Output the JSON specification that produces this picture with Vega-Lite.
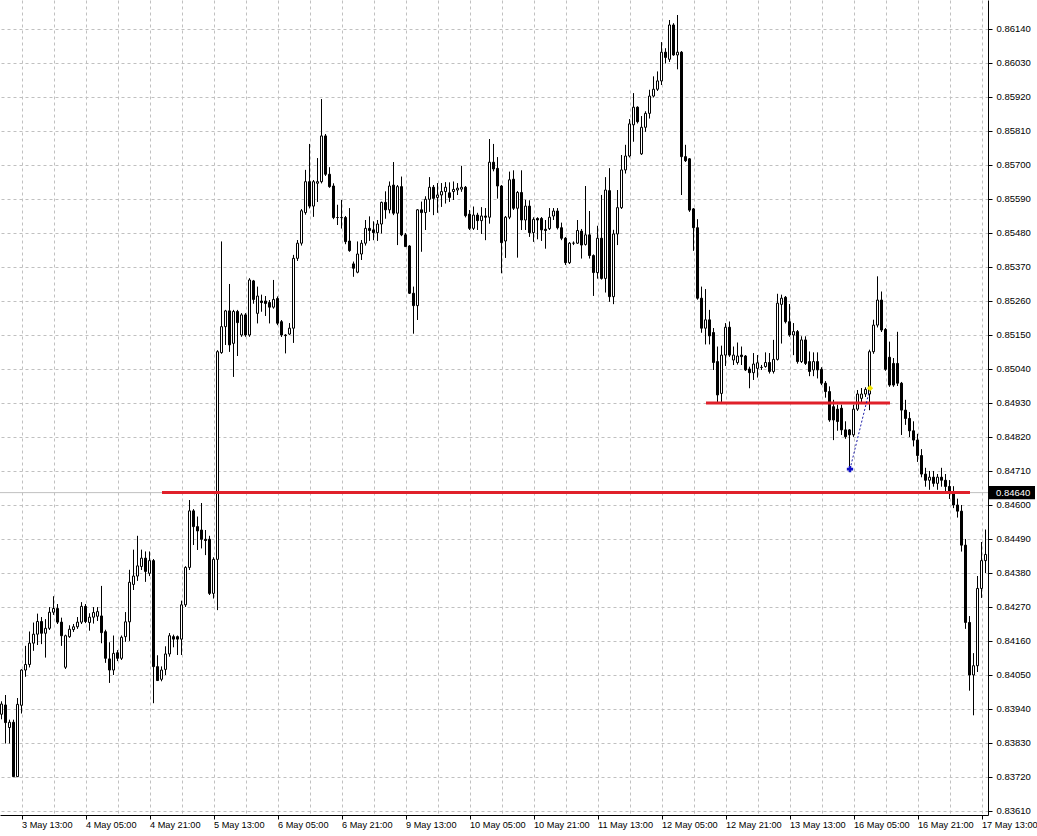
{
  "$schema": "https://vega.github.io/schema/vega-lite/v6.json",
  "width": 988,
  "height": 815,
  "autosize": {"type": "none"},
  "padding": {"left": 0, "top": 0, "right": 49, "bottom": 21},
  "background": "white",
  "config": {"view": {"stroke": null}},
  "datasets": {
    "candles": [
      {"t":"3 May 08:00","o":0.83923,"h":0.83964,"l":0.83907,"c":0.83956},
      {"t":"3 May 09:00","o":0.83953,"h":0.83985,"l":0.83829,"c":0.83896},
      {"t":"3 May 10:00","o":0.83880,"h":0.83905,"l":0.83829,"c":0.83897},
      {"t":"3 May 11:00","o":0.83897,"h":0.83905,"l":0.83721,"c":0.83721},
      {"t":"3 May 12:00","o":0.83721,"h":0.83975,"l":0.83721,"c":0.83955},
      {"t":"3 May 13:00","o":0.83952,"h":0.84068,"l":0.83926,"c":0.84066},
      {"t":"3 May 14:00","o":0.84066,"h":0.84144,"l":0.84045,"c":0.84084},
      {"t":"3 May 15:00","o":0.84084,"h":0.84190,"l":0.84075,"c":0.84153},
      {"t":"3 May 16:00","o":0.84153,"h":0.84219,"l":0.84129,"c":0.84182},
      {"t":"3 May 17:00","o":0.84182,"h":0.84248,"l":0.84147,"c":0.84223},
      {"t":"3 May 18:00","o":0.84223,"h":0.84237,"l":0.84150,"c":0.84185},
      {"t":"3 May 19:00","o":0.84185,"h":0.84230,"l":0.84107,"c":0.84201},
      {"t":"3 May 20:00","o":0.84201,"h":0.84269,"l":0.84196,"c":0.84253},
      {"t":"3 May 21:00","o":0.84253,"h":0.84304,"l":0.84245,"c":0.84265},
      {"t":"3 May 22:00","o":0.84265,"h":0.84279,"l":0.84215,"c":0.84221},
      {"t":"3 May 23:00","o":0.84221,"h":0.84235,"l":0.84145,"c":0.84177},
      {"t":"4 May 00:00","o":0.84075,"h":0.84180,"l":0.84070,"c":0.84177},
      {"t":"4 May 01:00","o":0.84174,"h":0.84210,"l":0.84171,"c":0.84198},
      {"t":"4 May 02:00","o":0.84197,"h":0.84215,"l":0.84190,"c":0.84206},
      {"t":"4 May 03:00","o":0.84206,"h":0.84237,"l":0.84200,"c":0.84221},
      {"t":"4 May 04:00","o":0.84221,"h":0.84285,"l":0.84215,"c":0.84272},
      {"t":"4 May 05:00","o":0.84272,"h":0.84279,"l":0.84218,"c":0.84223},
      {"t":"4 May 06:00","o":0.84220,"h":0.84249,"l":0.84194,"c":0.84237},
      {"t":"4 May 07:00","o":0.84237,"h":0.84269,"l":0.84217,"c":0.84252},
      {"t":"4 May 08:00","o":0.84240,"h":0.84269,"l":0.84225,"c":0.84255},
      {"t":"4 May 09:00","o":0.84241,"h":0.84338,"l":0.84153,"c":0.84187},
      {"t":"4 May 10:00","o":0.84190,"h":0.84196,"l":0.84090,"c":0.84104},
      {"t":"4 May 11:00","o":0.84102,"h":0.84155,"l":0.84025,"c":0.84066},
      {"t":"4 May 12:00","o":0.84066,"h":0.84177,"l":0.84050,"c":0.84120},
      {"t":"4 May 13:00","o":0.84122,"h":0.84130,"l":0.84095,"c":0.84104},
      {"t":"4 May 14:00","o":0.84104,"h":0.84177,"l":0.84099,"c":0.84172},
      {"t":"4 May 15:00","o":0.84174,"h":0.84253,"l":0.84158,"c":0.84222},
      {"t":"4 May 16:00","o":0.84222,"h":0.84390,"l":0.84161,"c":0.84350},
      {"t":"4 May 17:00","o":0.84343,"h":0.84455,"l":0.84325,"c":0.84370},
      {"t":"4 May 18:00","o":0.84370,"h":0.84500,"l":0.84355,"c":0.84403},
      {"t":"4 May 19:00","o":0.84401,"h":0.84455,"l":0.84390,"c":0.84428},
      {"t":"4 May 20:00","o":0.84428,"h":0.84449,"l":0.84352,"c":0.84385},
      {"t":"4 May 21:00","o":0.84379,"h":0.84449,"l":0.84370,"c":0.84420},
      {"t":"4 May 22:00","o":0.84420,"h":0.84425,"l":0.83959,"c":0.84077},
      {"t":"4 May 23:00","o":0.84077,"h":0.84113,"l":0.84032,"c":0.84032},
      {"t":"5 May 00:00","o":0.84036,"h":0.84077,"l":0.84030,"c":0.84066},
      {"t":"5 May 01:00","o":0.84068,"h":0.84142,"l":0.84050,"c":0.84118},
      {"t":"5 May 02:00","o":0.84118,"h":0.84185,"l":0.84110,"c":0.84177},
      {"t":"5 May 03:00","o":0.84174,"h":0.84180,"l":0.84140,"c":0.84166},
      {"t":"5 May 04:00","o":0.84174,"h":0.84177,"l":0.84115,"c":0.84166},
      {"t":"5 May 05:00","o":0.84166,"h":0.84290,"l":0.84115,"c":0.84277},
      {"t":"5 May 06:00","o":0.84277,"h":0.84401,"l":0.84270,"c":0.84398},
      {"t":"5 May 07:00","o":0.84398,"h":0.84616,"l":0.84390,"c":0.84581},
      {"t":"5 May 08:00","o":0.84581,"h":0.84586,"l":0.84471,"c":0.84530},
      {"t":"5 May 09:00","o":0.84530,"h":0.84562,"l":0.84455,"c":0.84516},
      {"t":"5 May 10:00","o":0.84519,"h":0.84606,"l":0.84460,"c":0.84489},
      {"t":"5 May 11:00","o":0.84489,"h":0.84519,"l":0.84438,"c":0.84485},
      {"t":"5 May 12:00","o":0.84489,"h":0.84500,"l":0.84309,"c":0.84314},
      {"t":"5 May 13:00","o":0.84314,"h":0.84430,"l":0.84298,"c":0.84424},
      {"t":"5 May 14:00","o":0.84424,"h":0.85100,"l":0.84260,"c":0.85096},
      {"t":"5 May 15:00","o":0.85093,"h":0.85452,"l":0.85090,"c":0.85177},
      {"t":"5 May 16:00","o":0.85177,"h":0.85231,"l":0.85118,"c":0.85228},
      {"t":"5 May 17:00","o":0.85228,"h":0.85315,"l":0.85096,"c":0.85118},
      {"t":"5 May 18:00","o":0.85123,"h":0.85231,"l":0.85015,"c":0.85226},
      {"t":"5 May 19:00","o":0.85226,"h":0.85231,"l":0.85082,"c":0.85190},
      {"t":"5 May 20:00","o":0.85150,"h":0.85220,"l":0.85145,"c":0.85215},
      {"t":"5 May 21:00","o":0.85215,"h":0.85220,"l":0.85145,"c":0.85150},
      {"t":"5 May 22:00","o":0.85150,"h":0.85333,"l":0.85145,"c":0.85328},
      {"t":"5 May 23:00","o":0.85325,"h":0.85328,"l":0.85252,"c":0.85265},
      {"t":"6 May 00:00","o":0.85220,"h":0.85306,"l":0.85188,"c":0.85276},
      {"t":"6 May 01:00","o":0.85260,"h":0.85280,"l":0.85226,"c":0.85255},
      {"t":"6 May 02:00","o":0.85260,"h":0.85276,"l":0.85212,"c":0.85252},
      {"t":"6 May 03:00","o":0.85255,"h":0.85263,"l":0.85188,"c":0.85240},
      {"t":"6 May 04:00","o":0.85240,"h":0.85328,"l":0.85236,"c":0.85265},
      {"t":"6 May 05:00","o":0.85268,"h":0.85274,"l":0.85182,"c":0.85188},
      {"t":"6 May 06:00","o":0.85193,"h":0.85198,"l":0.85144,"c":0.85150},
      {"t":"6 May 07:00","o":0.85150,"h":0.85152,"l":0.85091,"c":0.85148},
      {"t":"6 May 08:00","o":0.85153,"h":0.85188,"l":0.85150,"c":0.85172},
      {"t":"6 May 09:00","o":0.85172,"h":0.85409,"l":0.85125,"c":0.85398},
      {"t":"6 May 10:00","o":0.85398,"h":0.85457,"l":0.85390,"c":0.85447},
      {"t":"6 May 11:00","o":0.85447,"h":0.85557,"l":0.85440,"c":0.85552},
      {"t":"6 May 12:00","o":0.85546,"h":0.85684,"l":0.85540,"c":0.85646},
      {"t":"6 May 13:00","o":0.85646,"h":0.85768,"l":0.85560,"c":0.85567},
      {"t":"6 May 14:00","o":0.85567,"h":0.85651,"l":0.85533,"c":0.85646},
      {"t":"6 May 15:00","o":0.85641,"h":0.85722,"l":0.85581,"c":0.85646},
      {"t":"6 May 16:00","o":0.85646,"h":0.85913,"l":0.85641,"c":0.85794},
      {"t":"6 May 17:00","o":0.85794,"h":0.85800,"l":0.85665,"c":0.85670},
      {"t":"6 May 18:00","o":0.85670,"h":0.85692,"l":0.85627,"c":0.85630},
      {"t":"6 May 19:00","o":0.85632,"h":0.85640,"l":0.85525,"c":0.85530},
      {"t":"6 May 20:00","o":0.85530,"h":0.85571,"l":0.85506,"c":0.85530},
      {"t":"6 May 21:00","o":0.85530,"h":0.85587,"l":0.85495,"c":0.85530},
      {"t":"6 May 22:00","o":0.85530,"h":0.85535,"l":0.85444,"c":0.85452},
      {"t":"6 May 23:00","o":0.85454,"h":0.85560,"l":0.85420,"c":0.85423},
      {"t":"9 May 00:00","o":0.85380,"h":0.85387,"l":0.85339,"c":0.85366},
      {"t":"9 May 01:00","o":0.85353,"h":0.85452,"l":0.85350,"c":0.85412},
      {"t":"9 May 02:00","o":0.85412,"h":0.85457,"l":0.85393,"c":0.85447},
      {"t":"9 May 03:00","o":0.85447,"h":0.85522,"l":0.85440,"c":0.85495},
      {"t":"9 May 04:00","o":0.85495,"h":0.85533,"l":0.85455,"c":0.85488},
      {"t":"9 May 05:00","o":0.85490,"h":0.85517,"l":0.85457,"c":0.85481},
      {"t":"9 May 06:00","o":0.85481,"h":0.85522,"l":0.85455,"c":0.85509},
      {"t":"9 May 07:00","o":0.85509,"h":0.85581,"l":0.85479,"c":0.85579},
      {"t":"9 May 08:00","o":0.85579,"h":0.85614,"l":0.85527,"c":0.85555},
      {"t":"9 May 09:00","o":0.85555,"h":0.85646,"l":0.85544,"c":0.85632},
      {"t":"9 May 10:00","o":0.85635,"h":0.85709,"l":0.85538,"c":0.85544},
      {"t":"9 May 11:00","o":0.85544,"h":0.85635,"l":0.85441,"c":0.85630},
      {"t":"9 May 12:00","o":0.85630,"h":0.85662,"l":0.85470,"c":0.85474},
      {"t":"9 May 13:00","o":0.85474,"h":0.85480,"l":0.85436,"c":0.85436},
      {"t":"9 May 14:00","o":0.85438,"h":0.85440,"l":0.85283,"c":0.85285},
      {"t":"9 May 15:00","o":0.85285,"h":0.85306,"l":0.85155,"c":0.85245},
      {"t":"9 May 16:00","o":0.85245,"h":0.85557,"l":0.85199,"c":0.85555},
      {"t":"9 May 17:00","o":0.85555,"h":0.85581,"l":0.85420,"c":0.85546},
      {"t":"9 May 18:00","o":0.85546,"h":0.85598,"l":0.85490,"c":0.85589},
      {"t":"9 May 19:00","o":0.85589,"h":0.85660,"l":0.85549,"c":0.85628},
      {"t":"9 May 20:00","o":0.85628,"h":0.85635,"l":0.85538,"c":0.85592},
      {"t":"9 May 21:00","o":0.85595,"h":0.85641,"l":0.85546,"c":0.85603},
      {"t":"9 May 22:00","o":0.85603,"h":0.85641,"l":0.85565,"c":0.85614},
      {"t":"9 May 23:00","o":0.85614,"h":0.85644,"l":0.85576,"c":0.85628},
      {"t":"10 May 00:00","o":0.85610,"h":0.85643,"l":0.85581,"c":0.85595},
      {"t":"10 May 01:00","o":0.85614,"h":0.85646,"l":0.85587,"c":0.85621},
      {"t":"10 May 02:00","o":0.85619,"h":0.85641,"l":0.85603,"c":0.85625},
      {"t":"10 May 03:00","o":0.85622,"h":0.85697,"l":0.85614,"c":0.85628},
      {"t":"10 May 04:00","o":0.85628,"h":0.85632,"l":0.85531,"c":0.85536},
      {"t":"10 May 05:00","o":0.85541,"h":0.85554,"l":0.85490,"c":0.85495},
      {"t":"10 May 06:00","o":0.85495,"h":0.85565,"l":0.85490,"c":0.85538},
      {"t":"10 May 07:00","o":0.85538,"h":0.85545,"l":0.85490,"c":0.85520},
      {"t":"10 May 08:00","o":0.85520,"h":0.85563,"l":0.85477,"c":0.85535},
      {"t":"10 May 09:00","o":0.85535,"h":0.85560,"l":0.85457,"c":0.85531},
      {"t":"10 May 10:00","o":0.85531,"h":0.85784,"l":0.85511,"c":0.85709},
      {"t":"10 May 11:00","o":0.85709,"h":0.85768,"l":0.85680,"c":0.85687},
      {"t":"10 May 12:00","o":0.85689,"h":0.85725,"l":0.85592,"c":0.85632},
      {"t":"10 May 13:00","o":0.85632,"h":0.85635,"l":0.85350,"c":0.85449},
      {"t":"10 May 14:00","o":0.85454,"h":0.85535,"l":0.85400,"c":0.85531},
      {"t":"10 May 15:00","o":0.85531,"h":0.85678,"l":0.85525,"c":0.85652},
      {"t":"10 May 16:00","o":0.85654,"h":0.85682,"l":0.85555,"c":0.85560},
      {"t":"10 May 17:00","o":0.85560,"h":0.85615,"l":0.85401,"c":0.85611},
      {"t":"10 May 18:00","o":0.85611,"h":0.85682,"l":0.85490,"c":0.85522},
      {"t":"10 May 19:00","o":0.85522,"h":0.85587,"l":0.85490,"c":0.85567},
      {"t":"10 May 20:00","o":0.85567,"h":0.85585,"l":0.85468,"c":0.85481},
      {"t":"10 May 21:00","o":0.85481,"h":0.85530,"l":0.85452,"c":0.85524},
      {"t":"10 May 22:00","o":0.85527,"h":0.85530,"l":0.85460,"c":0.85522},
      {"t":"10 May 23:00","o":0.85527,"h":0.85531,"l":0.85455,"c":0.85490},
      {"t":"11 May 00:00","o":0.85492,"h":0.85522,"l":0.85430,"c":0.85488},
      {"t":"11 May 01:00","o":0.85494,"h":0.85560,"l":0.85490,"c":0.85531},
      {"t":"11 May 02:00","o":0.85535,"h":0.85560,"l":0.85522,"c":0.85551},
      {"t":"11 May 03:00","o":0.85551,"h":0.85560,"l":0.85492,"c":0.85497},
      {"t":"11 May 04:00","o":0.85497,"h":0.85513,"l":0.85457,"c":0.85463},
      {"t":"11 May 05:00","o":0.85463,"h":0.85466,"l":0.85377,"c":0.85384},
      {"t":"11 May 06:00","o":0.85384,"h":0.85450,"l":0.85380,"c":0.85447},
      {"t":"11 May 07:00","o":0.85447,"h":0.85452,"l":0.85441,"c":0.85447},
      {"t":"11 May 08:00","o":0.85447,"h":0.85522,"l":0.85445,"c":0.85488},
      {"t":"11 May 09:00","o":0.85486,"h":0.85493,"l":0.85398,"c":0.85441},
      {"t":"11 May 10:00","o":0.85443,"h":0.85632,"l":0.85440,"c":0.85474},
      {"t":"11 May 11:00","o":0.85474,"h":0.85551,"l":0.85398,"c":0.85407},
      {"t":"11 May 12:00","o":0.85407,"h":0.85410,"l":0.85277,"c":0.85352},
      {"t":"11 May 13:00","o":0.85352,"h":0.85503,"l":0.85333,"c":0.85463},
      {"t":"11 May 14:00","o":0.85463,"h":0.85603,"l":0.85330,"c":0.85333},
      {"t":"11 May 15:00","o":0.85333,"h":0.85660,"l":0.85288,"c":0.85619},
      {"t":"11 May 16:00","o":0.85617,"h":0.85689,"l":0.85258,"c":0.85274},
      {"t":"11 May 17:00","o":0.85274,"h":0.85490,"l":0.85250,"c":0.85477},
      {"t":"11 May 18:00","o":0.85477,"h":0.85619,"l":0.85441,"c":0.85562},
      {"t":"11 May 19:00","o":0.85562,"h":0.85732,"l":0.85558,"c":0.85684},
      {"t":"11 May 20:00","o":0.85684,"h":0.85765,"l":0.85673,"c":0.85729},
      {"t":"11 May 21:00","o":0.85729,"h":0.85848,"l":0.85725,"c":0.85833},
      {"t":"11 May 22:00","o":0.85830,"h":0.85932,"l":0.85776,"c":0.85887},
      {"t":"11 May 23:00","o":0.85887,"h":0.85889,"l":0.85835,"c":0.85840},
      {"t":"12 May 00:00","o":0.85736,"h":0.85858,"l":0.85733,"c":0.85822},
      {"t":"12 May 01:00","o":0.85822,"h":0.85873,"l":0.85808,"c":0.85867},
      {"t":"12 May 02:00","o":0.85867,"h":0.85943,"l":0.85851,"c":0.85923},
      {"t":"12 May 03:00","o":0.85923,"h":0.85986,"l":0.85919,"c":0.85945},
      {"t":"12 May 04:00","o":0.85945,"h":0.86002,"l":0.85940,"c":0.85972},
      {"t":"12 May 05:00","o":0.85972,"h":0.86097,"l":0.85959,"c":0.86065},
      {"t":"12 May 06:00","o":0.86065,"h":0.86077,"l":0.86029,"c":0.86048},
      {"t":"12 May 07:00","o":0.86042,"h":0.86169,"l":0.86034,"c":0.86153},
      {"t":"12 May 08:00","o":0.86153,"h":0.86158,"l":0.86054,"c":0.86056},
      {"t":"12 May 09:00","o":0.86056,"h":0.86185,"l":0.86010,"c":0.86065},
      {"t":"12 May 10:00","o":0.86065,"h":0.86068,"l":0.85603,"c":0.85727},
      {"t":"12 May 11:00","o":0.85727,"h":0.85765,"l":0.85710,"c":0.85714},
      {"t":"12 May 12:00","o":0.85720,"h":0.85722,"l":0.85549,"c":0.85554},
      {"t":"12 May 13:00","o":0.85558,"h":0.85560,"l":0.85423,"c":0.85497},
      {"t":"12 May 14:00","o":0.85497,"h":0.85524,"l":0.85265,"c":0.85269},
      {"t":"12 May 15:00","o":0.85269,"h":0.85306,"l":0.85158,"c":0.85172},
      {"t":"12 May 16:00","o":0.85172,"h":0.85298,"l":0.85120,"c":0.85199},
      {"t":"12 May 17:00","o":0.85199,"h":0.85231,"l":0.85120,"c":0.85147},
      {"t":"12 May 18:00","o":0.85158,"h":0.85172,"l":0.85037,"c":0.85061},
      {"t":"12 May 19:00","o":0.85064,"h":0.85112,"l":0.84934,"c":0.84956},
      {"t":"12 May 20:00","o":0.84961,"h":0.85115,"l":0.84934,"c":0.85085},
      {"t":"12 May 21:00","o":0.85085,"h":0.85188,"l":0.85050,"c":0.85175},
      {"t":"12 May 22:00","o":0.85175,"h":0.85193,"l":0.85080,"c":0.85085},
      {"t":"12 May 23:00","o":0.85069,"h":0.85112,"l":0.85053,"c":0.85085},
      {"t":"13 May 00:00","o":0.85061,"h":0.85125,"l":0.85055,"c":0.85082},
      {"t":"13 May 01:00","o":0.85085,"h":0.85112,"l":0.85053,"c":0.85080},
      {"t":"13 May 02:00","o":0.85082,"h":0.85085,"l":0.85034,"c":0.85037},
      {"t":"13 May 03:00","o":0.85040,"h":0.85047,"l":0.84978,"c":0.85028},
      {"t":"13 May 04:00","o":0.85028,"h":0.85091,"l":0.85005,"c":0.85056},
      {"t":"13 May 05:00","o":0.85042,"h":0.85085,"l":0.85013,"c":0.85060},
      {"t":"13 May 06:00","o":0.85045,"h":0.85053,"l":0.85037,"c":0.85045},
      {"t":"13 May 07:00","o":0.85048,"h":0.85093,"l":0.85045,"c":0.85061},
      {"t":"13 May 08:00","o":0.85061,"h":0.85091,"l":0.85026,"c":0.85032},
      {"t":"13 May 09:00","o":0.85032,"h":0.85134,"l":0.85026,"c":0.85071},
      {"t":"13 May 10:00","o":0.85071,"h":0.85283,"l":0.85068,"c":0.85253},
      {"t":"13 May 11:00","o":0.85249,"h":0.85280,"l":0.85123,"c":0.85269},
      {"t":"13 May 12:00","o":0.85272,"h":0.85276,"l":0.85188,"c":0.85193},
      {"t":"13 May 13:00","o":0.85193,"h":0.85250,"l":0.85145,"c":0.85150},
      {"t":"13 May 14:00","o":0.85150,"h":0.85188,"l":0.85085,"c":0.85161},
      {"t":"13 May 15:00","o":0.85161,"h":0.85166,"l":0.85058,"c":0.85064},
      {"t":"13 May 16:00","o":0.85064,"h":0.85145,"l":0.85060,"c":0.85134},
      {"t":"13 May 17:00","o":0.85134,"h":0.85145,"l":0.85053,"c":0.85058},
      {"t":"13 May 18:00","o":0.85064,"h":0.85096,"l":0.85017,"c":0.85032},
      {"t":"13 May 19:00","o":0.85037,"h":0.85093,"l":0.85017,"c":0.85064},
      {"t":"13 May 20:00","o":0.85064,"h":0.85093,"l":0.85010,"c":0.85037},
      {"t":"13 May 21:00","o":0.85039,"h":0.85045,"l":0.84988,"c":0.84994},
      {"t":"13 May 22:00","o":0.84994,"h":0.85000,"l":0.84948,"c":0.84967},
      {"t":"13 May 23:00","o":0.84967,"h":0.84983,"l":0.84870,"c":0.84875},
      {"t":"16 May 00:00","o":0.84918,"h":0.84940,"l":0.84810,"c":0.84875},
      {"t":"16 May 01:00","o":0.84910,"h":0.84924,"l":0.84841,"c":0.84870},
      {"t":"16 May 02:00","o":0.84913,"h":0.84924,"l":0.84827,"c":0.84843},
      {"t":"16 May 03:00","o":0.84843,"h":0.84870,"l":0.84815,"c":0.84821},
      {"t":"16 May 04:00","o":0.84843,"h":0.84845,"l":0.84716,"c":0.84827},
      {"t":"16 May 05:00","o":0.84827,"h":0.84924,"l":0.84821,"c":0.84910},
      {"t":"16 May 06:00","o":0.84910,"h":0.84972,"l":0.84905,"c":0.84959},
      {"t":"16 May 07:00","o":0.84945,"h":0.84978,"l":0.84929,"c":0.84959},
      {"t":"16 May 08:00","o":0.84959,"h":0.84980,"l":0.84950,"c":0.84974},
      {"t":"16 May 09:00","o":0.84959,"h":0.85102,"l":0.84907,"c":0.85096},
      {"t":"16 May 10:00","o":0.85096,"h":0.85199,"l":0.85090,"c":0.85182},
      {"t":"16 May 11:00","o":0.85182,"h":0.85339,"l":0.85175,"c":0.85263},
      {"t":"16 May 12:00","o":0.85263,"h":0.85290,"l":0.85160,"c":0.85166},
      {"t":"16 May 13:00","o":0.85168,"h":0.85172,"l":0.85035,"c":0.85039},
      {"t":"16 May 14:00","o":0.85078,"h":0.85128,"l":0.84983,"c":0.84988},
      {"t":"16 May 15:00","o":0.85058,"h":0.85075,"l":0.84983,"c":0.84988},
      {"t":"16 May 16:00","o":0.85058,"h":0.85160,"l":0.84985,"c":0.84994},
      {"t":"16 May 17:00","o":0.84994,"h":0.84998,"l":0.84827,"c":0.84907},
      {"t":"16 May 18:00","o":0.84907,"h":0.84940,"l":0.84860,"c":0.84880},
      {"t":"16 May 19:00","o":0.84880,"h":0.84900,"l":0.84820,"c":0.84840},
      {"t":"16 May 20:00","o":0.84840,"h":0.84870,"l":0.84790,"c":0.84810},
      {"t":"16 May 21:00","o":0.84810,"h":0.84830,"l":0.84740,"c":0.84760},
      {"t":"16 May 22:00","o":0.84760,"h":0.84780,"l":0.84690,"c":0.84700},
      {"t":"16 May 23:00","o":0.84700,"h":0.84720,"l":0.84660,"c":0.84680},
      {"t":"17 May 00:00","o":0.84680,"h":0.84710,"l":0.84650,"c":0.84690},
      {"t":"17 May 01:00","o":0.84690,"h":0.84710,"l":0.84660,"c":0.84670},
      {"t":"17 May 02:00","o":0.84670,"h":0.84700,"l":0.84650,"c":0.84690},
      {"t":"17 May 03:00","o":0.84690,"h":0.84720,"l":0.84660,"c":0.84680},
      {"t":"17 May 04:00","o":0.84680,"h":0.84700,"l":0.84640,"c":0.84660},
      {"t":"17 May 05:00","o":0.84660,"h":0.84680,"l":0.84620,"c":0.84640},
      {"t":"17 May 06:00","o":0.84640,"h":0.84660,"l":0.84590,"c":0.84600},
      {"t":"17 May 07:00","o":0.84600,"h":0.84620,"l":0.84560,"c":0.84580},
      {"t":"17 May 08:00","o":0.84580,"h":0.84600,"l":0.84450,"c":0.84470},
      {"t":"17 May 09:00","o":0.84470,"h":0.84490,"l":0.84200,"c":0.84220},
      {"t":"17 May 10:00","o":0.84220,"h":0.84240,"l":0.84000,"c":0.84050},
      {"t":"17 May 11:00","o":0.84050,"h":0.84120,"l":0.83920,"c":0.84080},
      {"t":"17 May 12:00","o":0.84080,"h":0.84370,"l":0.84060,"c":0.84330},
      {"t":"17 May 13:00","o":0.84330,"h":0.84480,"l":0.84300,"c":0.84420},
      {"t":"17 May 14:00","o":0.84420,"h":0.84520,"l":0.84380,"c":0.84440}
    ],
    "levels": [
      {"t1":"5 May 00:00","t2":"17 May 10:00","p":0.8464},
      {"t1":"12 May 16:00","t2":"16 May 14:00","p":0.8493}
    ],
    "path": [
      {"t":"16 May 04:00","p":0.84716,"pt":"start"},
      {"t":"16 May 09:00","p":0.84978,"pt":"end"}
    ],
    "bid": [{"p":0.8464,"label":"0.84640"}]
  },
  "layer": [
    {
      "data": {"name": "candles"},
      "mark": {"type": "rule", "color": "black", "strokeWidth": 1, "xOffset": -0.5},
      "encoding": {
        "x": {
          "field": "t", "type": "ordinal", "sort": null,
          "scale": {"paddingInner": 0, "paddingOuter": 0},
          "axis": {
            "title": null,
            "values": ["3 May 13:00","3 May 21:00","4 May 05:00","4 May 13:00","4 May 21:00","5 May 05:00","5 May 13:00","5 May 21:00","6 May 05:00","6 May 13:00","6 May 21:00","9 May 05:00","9 May 13:00","9 May 21:00","10 May 05:00","10 May 13:00","10 May 21:00","11 May 05:00","11 May 13:00","11 May 21:00","12 May 05:00","12 May 13:00","12 May 21:00","13 May 05:00","13 May 13:00","13 May 21:00","16 May 05:00","16 May 13:00","16 May 21:00","17 May 05:00","17 May 13:00"],
            "labelExpr": "indexof(['3 May 13:00','4 May 05:00','4 May 21:00','5 May 13:00','6 May 05:00','6 May 21:00','9 May 13:00','10 May 05:00','10 May 21:00','11 May 13:00','12 May 05:00','12 May 21:00','13 May 13:00','16 May 05:00','16 May 21:00','17 May 13:00'], datum.value) >= 0 ? datum.value : ''",
            "tickOpacity": {"condition": {"test": "indexof(['3 May 13:00','4 May 05:00','4 May 21:00','5 May 13:00','6 May 05:00','6 May 21:00','9 May 13:00','10 May 05:00','10 May 21:00','11 May 13:00','12 May 05:00','12 May 21:00','13 May 13:00','16 May 05:00','16 May 21:00','17 May 13:00'], datum.value) < 0", "value": 0}, "value": 1},
            "grid": true, "gridColor": "#c0c0c0", "gridDash": [3, 3], "gridWidth": 1,
            "domainColor": "black", "tickColor": "black", "tickSize": 4,
            "labelAlign": "left", "labelBaseline": "top", "labelPadding": 1, "labelAngle": 0,
            "labelFont": "Liberation Sans", "labelFontSize": 9.2, "labelColor": "black",
            "labelOverlap": false, "labelBound": false, "labelFlush": false
          }
        },
        "y": {
          "field": "l", "type": "quantitative",
          "scale": {"domain": [0.83597, 0.862338], "nice": false, "zero": false},
          "axis": {
            "title": null, "orient": "right", "tickCount": 40,
            "values": [0.8614,0.8603,0.8592,0.8581,0.857,0.8559,0.8548,0.8537,0.8526,0.8515,0.8504,0.8493,0.8482,0.8471,0.846,0.8449,0.8438,0.8427,0.8416,0.8405,0.8394,0.8383,0.8372,0.8361],
            "format": ".5f",
            "grid": true, "gridColor": "#c0c0c0", "gridDash": [3, 3], "gridWidth": 1,
            "domainColor": "black", "tickColor": "black", "tickSize": 4, "labelPadding": 4,
            "labelFont": "Liberation Sans", "labelFontSize": 9.5, "labelColor": "black",
            "labelOverlap": false, "labelBound": false, "labelFlush": false
          }
        },
        "y2": {"field": "h"}
      }
    },
    {
      "data": {"name": "bid"},
      "mark": {"type": "rule", "color": "#c0c0c0", "strokeWidth": 1},
      "encoding": {"y": {"field": "p", "type": "quantitative"}}
    },
    {
      "data": {"name": "candles"},
      "mark": {"type": "rule", "color": "black", "strokeWidth": 1, "xOffset": -0.5},
      "encoding": {
        "x": {"field": "t", "type": "ordinal", "sort": null},
        "y": {"field": "l", "type": "quantitative"},
        "y2": {"field": "h"}
      }
    },
    {
      "data": {"name": "candles"},
      "mark": {"type": "bar", "size": 2, "stroke": "black", "strokeWidth": 1, "xOffset": -0.5},
      "encoding": {
        "x": {"field": "t", "type": "ordinal", "sort": null},
        "y": {"field": "o", "type": "quantitative"},
        "y2": {"field": "c"},
        "fill": {"condition": {"test": "datum.c >= datum.o", "value": "white"}, "value": "black"}
      }
    },
    {
      "data": {"name": "levels"},
      "mark": {"type": "rule", "color": "#e0202a", "strokeWidth": 3},
      "encoding": {
        "x": {"field": "t1", "type": "ordinal", "sort": null},
        "x2": {"field": "t2"},
        "y": {"field": "p", "type": "quantitative"}
      }
    },
    {
      "data": {"name": "path"},
      "mark": {"type": "line", "color": "#1a1aa6", "strokeWidth": 1, "strokeDash": [2, 2]},
      "encoding": {
        "x": {"field": "t", "type": "ordinal", "sort": null},
        "y": {"field": "p", "type": "quantitative"}
      }
    },
    {
      "data": {"name": "path"},
      "mark": {"type": "point", "filled": true, "size": 40, "opacity": 1},
      "encoding": {
        "x": {"field": "t", "type": "ordinal", "sort": null},
        "y": {"field": "p", "type": "quantitative"},
        "shape": {"field": "pt", "type": "nominal", "scale": {"domain": ["start", "end"], "range": ["cross", "diamond"]}, "legend": null},
        "color": {"field": "pt", "type": "nominal", "scale": {"domain": ["start", "end"], "range": ["#1010c8", "#f2e600"]}, "legend": null}
      }
    },
    {
      "data": {"name": "bid"},
      "mark": {"type": "point", "filled": true, "opacity": 1, "color": "black", "size": 8836, "shape": "M0,-0.14H1V0.14H0Z"},
      "encoding": {
        "x": {"value": "width"},
        "y": {"field": "p", "type": "quantitative"}
      }
    },
    {
      "data": {"name": "bid"},
      "mark": {"type": "text", "color": "white", "align": "left", "baseline": "middle", "dx": 8, "font": "Liberation Sans", "fontSize": 9.5},
      "encoding": {
        "x": {"value": "width"},
        "y": {"field": "p", "type": "quantitative"},
        "text": {"field": "label"}
      }
    }
  ]
}
